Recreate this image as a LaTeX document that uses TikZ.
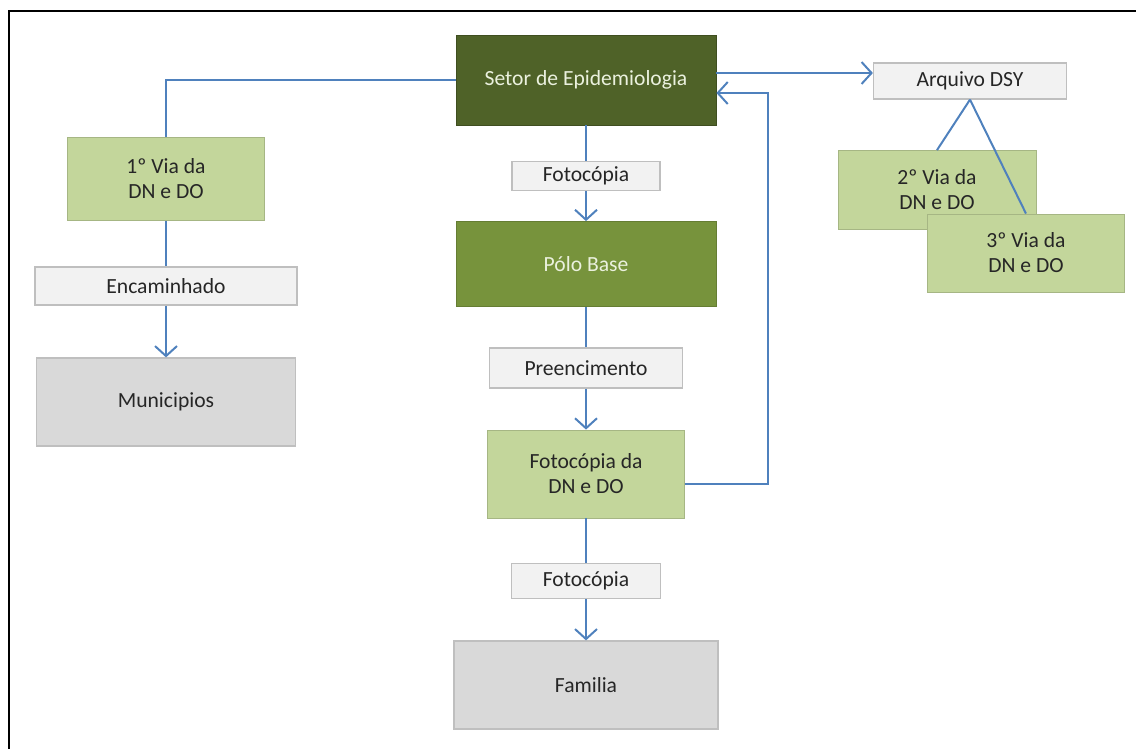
\documentclass[tikz,border=0pt]{standalone}
\usepackage{fontspec}
\setmainfont{Carlito}
\usetikzlibrary{arrows.meta}
\definecolor{darkolive}{HTML}{4F6228}
\definecolor{midolive}{HTML}{77933C}
\definecolor{lightolive}{HTML}{C3D69B}
\definecolor{paletext}{HTML}{EBF1DE}
\definecolor{labelgray}{HTML}{F2F2F2}
\definecolor{boxgray}{HTML}{D9D9D9}
\definecolor{edgegray}{HTML}{BFBFBF}
\definecolor{flowblue}{HTML}{4F81BD}
\definecolor{inkgray}{HTML}{262626}
\begin{document}
\begin{tikzpicture}[x=0.5pt, y=-0.5pt, font=\fontsize{10.8}{12.5}\selectfont,
    every node/.style={inner sep=0pt, align=center, text=inkgray},
    darkbox/.style={fill=darkolive, draw=darkolive!80!black, line width=0.4pt, text=paletext},
    midbox/.style={fill=midolive, draw=midolive!85!black, line width=0.4pt, text=paletext},
    viabox/.style={fill=lightolive, draw=lightolive!85!black, line width=0.4pt},
    tagbox/.style={fill=labelgray, draw=edgegray, line width=0.6pt},
    endbox/.style={fill=boxgray, draw=edgegray, line width=0.6pt},
    flow/.style={draw=flowblue, line width=1pt},
    arr/.style={flow, -{Straight Barb[length=5pt, width=11pt]}}]
    \useasboundingbox (0,0) rectangle (1136,749);
    \draw[line width=1.3pt] (9,749) -- (9,11) -- (1136,11); % frame
    % middle column
    \node[darkbox, minimum width=130pt, minimum height=45pt] (setor) at (586,80) {Setor de Epidemiologia};
    \node[tagbox, minimum width=74pt, minimum height=14.5pt] (foto1) at (586,176) {Fotocópia};
    \node[midbox, minimum width=130pt, minimum height=42.5pt] (polo) at (586,264) {Pólo Base};
    \node[tagbox, minimum width=96.5pt, minimum height=20pt] (preench) at (586,368) {Preencimento};
    \node[viabox, minimum width=98.5pt, minimum height=44pt] (fotodn) at (586,474) {Fotocópia da\\DN e DO};
    \node[tagbox, minimum width=74.5pt, minimum height=17.5pt] (foto2) at (586,581) {Fotocópia};
    \node[endbox, minimum width=132pt, minimum height=44pt] (familia) at (586,685) {Familia};
    % left column
    \node[viabox, minimum width=98.5pt, minimum height=41.5pt] (via1) at (166,179) {1º Via da\\DN e DO};
    \node[tagbox, minimum width=131pt, minimum height=19pt] (encam) at (166,286) {Encaminhado};
    \node[endbox, minimum width=129.5pt, minimum height=44pt] (munic) at (166,402) {Municipios};
    % right side
    \node[tagbox, minimum width=96.5pt, minimum height=18pt] (arquivo) at (970,81) {Arquivo DSY};
    \node[viabox, minimum width=99pt, minimum height=39.5pt] (via2) at (937,190) {2º Via da\\DN e DO};
    \node[viabox, minimum width=98.5pt, minimum height=39pt] (via3) at (1026,253) {3º Via da\\DN e DO};
    % connectors
    \draw[flow] (setor.west) -| (via1.north);
    \draw[flow] (via1.south) -- (encam.north);
    \draw[arr] (encam.south) -- (munic.north);
    \draw[flow] (setor.south) -- (foto1.north);
    \draw[arr] (foto1.south) -- (polo.north);
    \draw[flow] (polo.south) -- (preench.north);
    \draw[arr] (preench.south) -- (fotodn.north);
    \draw[flow] (fotodn.south) -- (foto2.north);
    \draw[arr] (foto2.south) -- (familia.north);
    \draw[arr] (setor.east |- 0,73) -- (arquivo.west |- 0,73);
    \draw[arr] (fotodn.east |- 0,484) -| (768,93) -- (setor.east |- 0,93);
    \draw[flow] (arquivo.south) -- (via2.north);
    \draw[flow] (arquivo.south) -- (via3.north);
\end{tikzpicture}
\end{document}
